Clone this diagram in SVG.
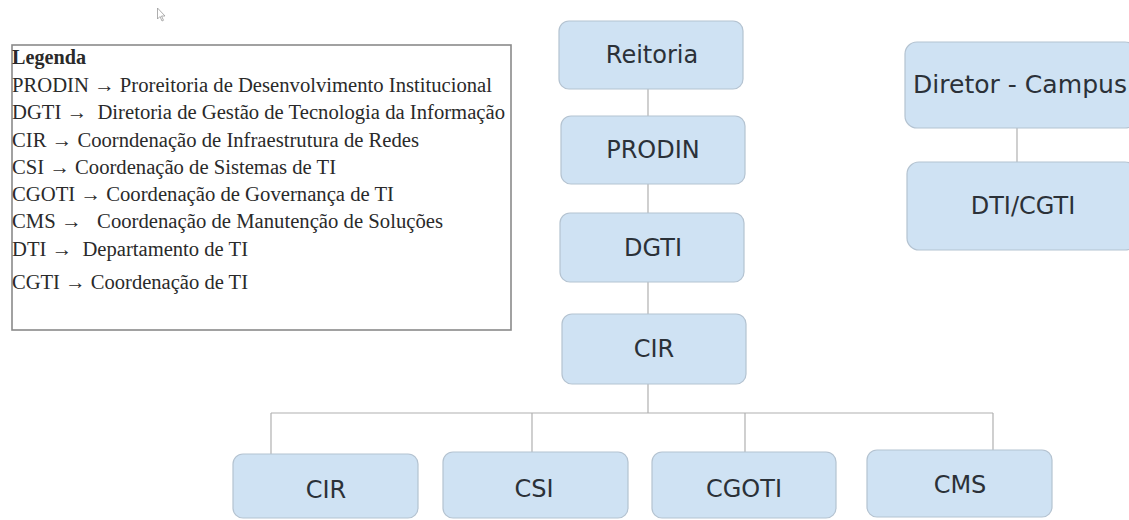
<svg xmlns="http://www.w3.org/2000/svg" width="1129" height="520" viewBox="0 0 1129 520">
<style>
.node rect{fill:#cfe2f3;stroke:#b4c3d1;stroke-width:1.2}
.node text{font-family:"DejaVu Sans","Open Sans",sans-serif;font-size:24px;fill:#2b3138;text-anchor:middle}
.conn line{stroke:#b0b0b0;stroke-width:1.2}
.leg{font-family:"Liberation Serif","Times New Roman",serif;font-size:20px;fill:#2a2a2a;white-space:pre}
</style>
<rect x="0" y="0" width="1129" height="520" fill="#ffffff"/>
<path d="M157.5,8 L157.5,19 L160,16.5 L162,21 L163.5,20.3 L161.5,16 L165,16 Z" fill="#fff" stroke="#999" stroke-width="0.8"/>
<g id="legend">
<rect x="12" y="45" width="499" height="285" fill="#fff" stroke="#8a8a8a" stroke-width="1.6"/>
<text class="leg" x="12" y="64" font-weight="bold" textLength="74" lengthAdjust="spacingAndGlyphs">Legenda</text>
<text class="leg" x="12" y="92" textLength="480" lengthAdjust="spacingAndGlyphs">PRODIN → Proreitoria de Desenvolvimento Institucional</text>
<text class="leg" x="12" y="119" textLength="493" lengthAdjust="spacingAndGlyphs">DGTI →  Diretoria de Gestão de Tecnologia da Informação</text>
<text class="leg" x="12" y="147" textLength="407" lengthAdjust="spacingAndGlyphs">CIR → Coorndenação de Infraestrutura de Redes</text>
<text class="leg" x="12" y="174" textLength="324" lengthAdjust="spacingAndGlyphs">CSI → Coordenação de Sistemas de TI</text>
<text class="leg" x="12" y="201" textLength="382" lengthAdjust="spacingAndGlyphs">CGOTI → Coordenação de Governança de TI</text>
<text class="leg" x="12" y="228" textLength="431" lengthAdjust="spacingAndGlyphs">CMS →   Coordenação de Manutenção de Soluções</text>
<text class="leg" x="12" y="256" textLength="236" lengthAdjust="spacingAndGlyphs">DTI →  Departamento de TI</text>
<text class="leg" x="12" y="289" textLength="236" lengthAdjust="spacingAndGlyphs">CGTI → Coordenação de TI</text>
</g>
<g class="conn" id="connectors">
<line x1="648" y1="89" x2="648" y2="116"/>
<line x1="648" y1="184" x2="648" y2="213"/>
<line x1="648" y1="282" x2="648" y2="314"/>
<line x1="648" y1="384" x2="648" y2="413"/>
<line x1="271" y1="413" x2="993" y2="413"/>
<line x1="271" y1="413" x2="271" y2="454"/>
<line x1="532" y1="413" x2="532" y2="452"/>
<line x1="745" y1="413" x2="745" y2="452"/>
<line x1="993" y1="413" x2="993" y2="450"/>
<line x1="1017" y1="128" x2="1017" y2="162"/>
</g>
<g class="node" id="reitoria"><rect x="559" y="21" width="184" height="68" rx="10"/><text x="652" y="63">Reitoria</text></g>
<g class="node" id="prodin"><rect x="561" y="116" width="184" height="68" rx="10"/><text x="653" y="158">PRODIN</text></g>
<g class="node" id="dgti"><rect x="560" y="213" width="184" height="69" rx="10"/><text x="653" y="256">DGTI</text></g>
<g class="node" id="cir-top"><rect x="562" y="314" width="184" height="70" rx="10"/><text x="654" y="357">CIR</text></g>
<g class="node" id="diretor"><rect x="905" y="42" width="232" height="86" rx="12"/><text x="1020" y="93" textLength="214" lengthAdjust="spacingAndGlyphs">Diretor - Campus</text></g>
<g class="node" id="dti-cgti"><rect x="907" y="162" width="230" height="88" rx="12"/><text x="1023" y="214">DTI/CGTI</text></g>
<g class="node" id="cir"><rect x="233" y="454" width="185" height="64" rx="10"/><text x="326" y="498">CIR</text></g>
<g class="node" id="csi"><rect x="443" y="452" width="185" height="66" rx="10"/><text x="534" y="497">CSI</text></g>
<g class="node" id="cgoti"><rect x="652" y="452" width="184" height="66" rx="10"/><text x="744" y="497">CGOTI</text></g>
<g class="node" id="cms"><rect x="867" y="450" width="185" height="67" rx="10"/><text x="960" y="493">CMS</text></g>
</svg>
